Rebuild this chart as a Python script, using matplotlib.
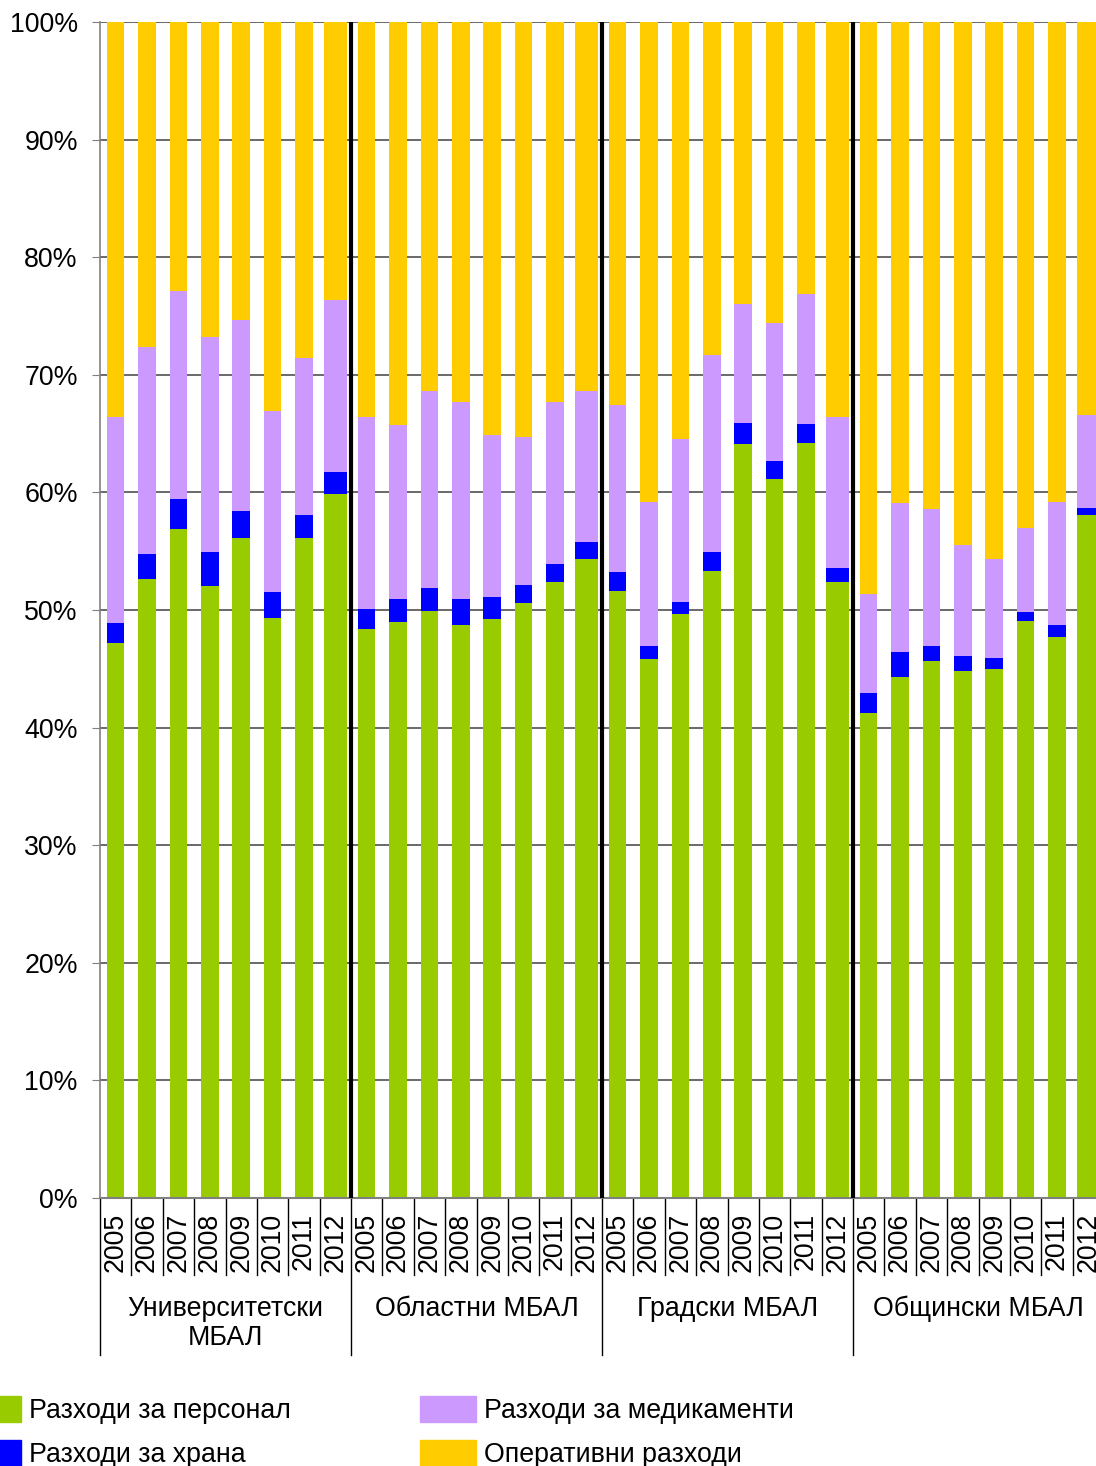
import matplotlib.pyplot as plt
from matplotlib.patches import Patch

plt.rcParams['font.family'] = ['Liberation Sans', 'DejaVu Sans']

years = ['2005', '2006', '2007', '2008', '2009', '2010', '2011', '2012']
groups = ['Университетски\nМБАЛ', 'Областни МБАЛ', 'Градски МБАЛ', 'Общински МБАЛ']

# shares in %, 8 years per group, groups in order above
personnel = [47.2, 52.6, 56.9, 52.0, 56.1, 49.3, 56.1, 59.9,
             48.4, 49.0, 49.9, 48.7, 49.2, 50.6, 52.4, 54.3,
             51.6, 45.8, 49.7, 53.3, 64.1, 61.1, 64.2, 52.4,
             41.2, 44.3, 45.7, 44.8, 45.0, 49.1, 47.7, 58.1]
food = [1.7, 2.2, 2.5, 2.9, 2.3, 2.2, 2.0, 1.8,
        1.7, 1.9, 2.0, 2.2, 1.9, 1.5, 1.5, 1.5,
        1.6, 1.1, 1.0, 1.6, 1.8, 1.6, 1.6, 1.2,
        1.7, 2.1, 1.2, 1.3, 0.9, 0.7, 1.0, 0.6]
medicine = [17.5, 17.6, 17.7, 18.3, 16.3, 15.4, 13.3, 14.7,
            16.3, 14.8, 16.7, 16.8, 13.8, 12.6, 13.8, 12.8,
            14.2, 12.3, 13.8, 16.8, 10.1, 11.7, 11.1, 12.8,
            8.5, 12.7, 11.7, 9.4, 8.4, 7.2, 10.5, 7.9]
operating = [33.6, 27.6, 22.9, 26.8, 25.3, 33.1, 28.6, 23.6,
             33.6, 34.3, 31.4, 32.3, 35.1, 35.3, 32.3, 31.4,
             32.6, 40.8, 35.5, 28.3, 24.0, 25.6, 23.1, 33.6,
             48.6, 40.9, 41.4, 44.5, 45.7, 43.0, 40.8, 33.4]

series = [
    ('Разходи за персонал', personnel, '#99CC00'),
    ('Разходи за храна', food, '#0000FF'),
    ('Разходи за медикаменти', medicine, '#CC99FF'),
    ('Оперативни разходи', operating, '#FFCC00'),
]

fs = 19.3
fig = plt.figure(figsize=(10.96, 14.66), dpi=100)
ax = fig.add_axes([100 / 1096, 268 / 1466, 1004 / 1096, 1176 / 1466])

n = len(personnel)
x = [i + 0.5 for i in range(n)]
widths = [0.72 if (i % 8) == 7 else 0.56 for i in range(n)]
bottom = [0.0] * n
for name, vals, col in series:
    ax.bar(x, vals, width=widths, bottom=bottom, color=col, zorder=2)
    bottom = [b + v for b, v in zip(bottom, vals)]

ax.set_xlim(0, n)
ax.set_ylim(0, 100)
ax.set_yticks(range(0, 101, 10))
ax.set_yticklabels([f'{v}%' for v in range(0, 101, 10)], fontsize=fs)
ax.yaxis.grid(True, color='#505050', lw=1.2, zorder=0)
ax.set_axisbelow(True)
ax.tick_params(axis='y', length=6, color='#808080', pad=10)
ax.set_xticks([])
for s in ['top', 'right']:
    ax.spines[s].set_visible(False)
ax.spines['left'].set_color('#808080')
ax.spines['bottom'].set_color('#808080')
ax.spines['left'].set_linewidth(1.2)
ax.spines['bottom'].set_linewidth(1.5)

# group separators inside the plot
for g in range(1, len(groups)):
    ax.axvline(g * 8, color='black', lw=3, zorder=3)

# category axis below
tr = ax.get_xaxis_transform()
px = 1 / 1176
for i in range(n + 1):
    ylow = -157 * px if i % 8 == 0 else -77 * px
    ax.plot([i, i], [0, ylow], color='black', lw=1, clip_on=False, transform=tr)
for i in range(n):
    ax.text(i + 0.5, -15 * px, years[i % 8], rotation=90, ha='center', va='top',
            fontsize=fs, transform=tr)
for g, name in enumerate(groups):
    ax.text(g * 8 + 4, -98 * px, name, ha='center', va='top', fontsize=fs,
            linespacing=1.15, transform=tr)

handles = [Patch(color=c, label=nm) for nm, _, c in series]
fig.legend(handles, [s[0] for s in series],
           ncol=2, loc='upper left', bbox_to_anchor=(-35 / 1096, 1 - 1396 / 1466),
           frameon=False, fontsize=fs, handlelength=2.1, handleheight=1.1,
           handletextpad=0.3, columnspacing=4.8, labelspacing=0.6, borderpad=0,
           borderaxespad=0)

fig.savefig('out.png', dpi=100)
